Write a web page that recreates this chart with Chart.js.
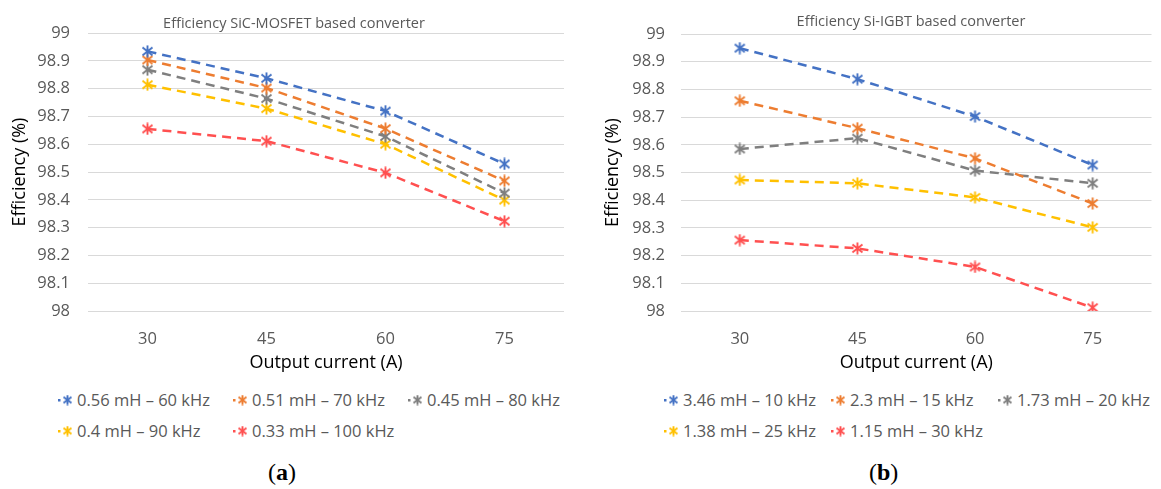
<!DOCTYPE html>
<html>
<head>
<meta charset="utf-8">
<script src="https://cdn.jsdelivr.net/npm/chart.js@4.4.1/dist/chart.umd.min.js"></script>
<style>
  html, body { margin: 0; padding: 0; background: #fff; }
  body { width: 1161px; height: 489px; position: relative; overflow: hidden; font-family: 'Open Sans', sans-serif; }
  .panel { position: absolute; top: 0; height: 489px; }
  .panel canvas { position: absolute; left: 0; top: 0; }
  .legend { position: absolute; font-size: 16.5px; color: #595959; }
  .legend .item { position: absolute; white-space: nowrap; display: flex; align-items: center; }
  .legend .item canvas { position: static; margin-right: 3px; }
  .caption { position: absolute; top: 459px; font-family: 'Liberation Serif', 'DejaVu Serif', serif; font-size: 24px; color: #000; }
  .caption b { font-weight: bold; }
</style>
</head>
<body>
<div class="panel" id="panelA" style="left:0;width:580px">
  <canvas id="chartA"></canvas>
  <div class="legend" id="legendA"></div>
  <div class="caption" style="left:268px">(<b>a</b>)</div>
</div>
<div class="panel" id="panelB" style="left:580px;width:581px">
  <canvas id="chartB"></canvas>
  <div class="legend" id="legendB"></div>
  <div class="caption" style="left:289px">(<b>b</b>)</div>
</div>
<script>
// output current categories (A)
const currents = ['30', '45', '60', '75'];

// (a) SiC-MOSFET converter
const sicNames = ['0.56 mH – 60 kHz', '0.51 mH – 70 kHz', '0.45 mH – 80 kHz', '0.4 mH – 90 kHz', '0.33 mH – 100 kHz'];
const sic60k  = [98.934, 98.837, 98.719, 98.529];
const sic70k  = [98.903, 98.802, 98.656, 98.468];
const sic80k  = [98.868, 98.764, 98.628, 98.424];
const sic90k  = [98.814, 98.728, 98.600, 98.399];
const sic100k = [98.655, 98.611, 98.497, 98.323];

// (b) Si-IGBT converter
const igbtNames = ['3.46 mH – 10 kHz', '2.3 mH – 15 kHz', '1.73 mH – 20 kHz', '1.38 mH – 25 kHz', '1.15 mH – 30 kHz'];
const igbt10k = [98.949, 98.837, 98.702, 98.527];
const igbt15k = [98.759, 98.660, 98.551, 98.388];
const igbt20k = [98.585, 98.624, 98.507, 98.461];
const igbt25k = [98.473, 98.461, 98.410, 98.302];
const igbt30k = [98.256, 98.226, 98.159, 98.012];

const seriesColors = ['#4472C4', '#ED7D31', '#7F7F7F', '#FFC000', '#FF5050'];

const W = 580, H = 375;

// x with a vertical stroke, like the office "star" marker
function makeStar(color, size) {
    const c = document.createElement('canvas');
    c.width = size; c.height = size;
    const g = c.getContext('2d');
    const m = 1.5, s = size - 1.5;
    g.strokeStyle = color;
    g.lineWidth = 1.9;
    g.beginPath();
    g.moveTo(m, m + 1); g.lineTo(s, s - 1);
    g.moveTo(s, m + 1); g.lineTo(m, s - 1);
    g.moveTo(size / 2, 0.5); g.lineTo(size / 2, size - 0.5);
    g.stroke();
    return c;
}

function legendMark(color) {
    const c = document.createElement('canvas');
    c.width = 16; c.height = 12;
    const g = c.getContext('2d');
    g.fillStyle = color;
    g.fillRect(0, 5, 2.5, 2.5);
    g.drawImage(makeStar(color, 11), 4, 0.5);
    return c;
}

const chartTitle = {
    id: 'chartTitle',
    afterDraw(chart, args, opts) {
        const ctx = chart.ctx;
        ctx.save();
        ctx.font = '14.5px "Open Sans"';
        ctx.fillStyle = '#595959';
        ctx.textAlign = 'center';
        ctx.textBaseline = 'middle';
        ctx.fillText(opts.text, opts.x, opts.y);
        ctx.restore();
    }
};

function build(id, names, series, cfg) {
    const datasets = series.map((data, i) => ({
        label: names[i],
        data: data,
        borderColor: seriesColors[i],
        backgroundColor: seriesColors[i],
        borderWidth: 2.5,
        borderDash: [9, 6],
        tension: 0,
        pointStyle: makeStar(seriesColors[i], 13),
        pointRadius: 6,
        pointHoverRadius: 6
    }));

    const canvas = document.getElementById(id);
    canvas.style.width = W + 'px';
    canvas.style.height = H + 'px';

    new Chart(canvas, {
        type: 'line',
        data: { labels: currents, datasets },
        plugins: [chartTitle],
        options: {
            responsive: false,
            animation: false,
            devicePixelRatio: 1,
            layout: { padding: { top: cfg.top, right: cfg.right, left: 0, bottom: 0 } },
            plugins: {
                legend: { display: false },
                tooltip: { enabled: false },
                chartTitle: { text: cfg.title, x: cfg.titleX, y: cfg.titleY }
            },
            scales: {
                x: {
                    offset: true,
                    grid: { display: false, drawTicks: false },
                    border: { display: false },
                    ticks: { color: '#595959', font: { family: 'Open Sans', size: 16.5 }, padding: 18 },
                    title: { display: true, text: 'Output current (A)', color: '#000', font: { family: 'Open Sans', size: 18 }, padding: { top: 0, bottom: 1 } },
                    afterFit(scale) { scale.height = H - 311; }
                },
                y: {
                    min: 98,
                    max: 99,
                    grid: { color: '#D9D9D9', lineWidth: 1, drawTicks: false },
                    border: { display: false },
                    ticks: {
                        stepSize: 0.1,
                        color: '#595959',
                        font: { family: 'Open Sans', size: 16.5 },
                        padding: cfg.tickPad,
                        callback: v => String(Math.round(v * 10) / 10)
                    },
                    title: { display: true, text: 'Efficiency (%)', color: '#000', font: { family: 'Open Sans', size: 18 }, padding: { top: cfg.yTitlePad, bottom: 0 } },
                    afterFit(scale) { scale.width = cfg.axisW; }
                }
            }
        }
    });

    const legend = document.getElementById(cfg.legendId);
    names.forEach((name, i) => {
        const item = document.createElement('div');
        item.className = 'item';
        item.style.left = (cfg.legendX + (i % 3) * cfg.colW) + 'px';
        item.style.top = (cfg.legendY + Math.floor(i / 3) * 31) + 'px';
        item.appendChild(legendMark(seriesColors[i]));
        item.appendChild(document.createTextNode(name));
        legend.appendChild(item);
    });
}

build('chartA', sicNames, [sic60k, sic70k, sic80k, sic90k, sic100k], {
    title: 'Efficiency SiC-MOSFET based converter', titleX: 294, titleY: 24,
    top: 33, right: 16, axisW: 88, tickPad: 18, yTitlePad: 9,
    legendId: 'legendA', legendX: 58, legendY: 388, colW: 175
});

build('chartB', igbtNames, [igbt10k, igbt15k, igbt20k, igbt25k, igbt30k], {
    title: 'Efficiency Si-IGBT based converter', titleX: 331, titleY: 22,
    top: 34, right: 0, axisW: 101, tickPad: 16, yTitlePad: 22,
    legendId: 'legendB', legendX: 84, legendY: 388, colW: 167
});
</script>
</body>
</html>
